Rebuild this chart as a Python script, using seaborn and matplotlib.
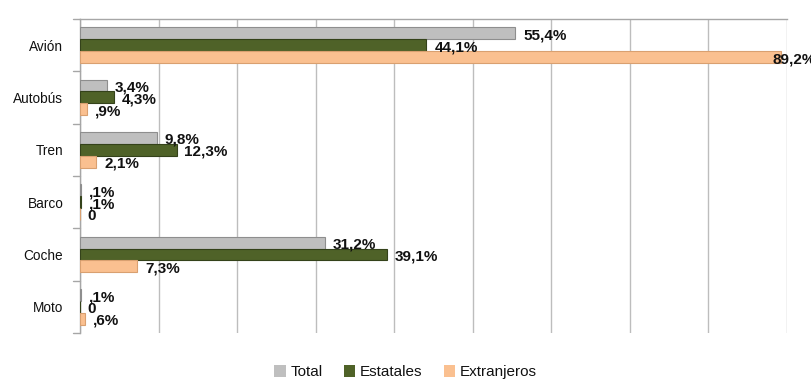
import matplotlib
matplotlib.use("Agg")
import matplotlib.pyplot as plt
import seaborn as sns
import pandas as pd
from matplotlib.patches import Patch

categories = ["Avión", "Autobús", "Tren", "Barco", "Coche", "Moto"]
series = ["Total", "Estatales", "Extranjeros"]
total = [55.4, 3.4, 9.8, 0.1, 31.2, 0.1]
estatales = [44.1, 4.3, 12.3, 0.1, 39.1, 0.0]
extranjeros = [89.2, 0.9, 2.1, 0.0, 7.3, 0.6]
label_total = ["55,4%", "3,4%", "9,8%", ",1%", "31,2%", ",1%"]
label_estatales = ["44,1%", "4,3%", "12,3%", ",1%", "39,1%", "0"]
label_extranjeros = ["89,2%", ",9%", "2,1%", "0", "7,3%", ",6%"]
colors = ["#BFBFBF", "#4F6228", "#FAC090"]
edge_colors = ["#8E8E8E", "#34421A", "#D9A070"]

sns.set_theme(style="white")
plt.rcParams["font.family"] = ["Liberation Sans Narrow", "Liberation Sans", "DejaVu Sans"]

rows = []
for s, vals in zip(series, [total, estatales, extranjeros]):
    for c, v in zip(categories, vals):
        rows.append({"cat": c, "serie": s, "val": v})
df = pd.DataFrame(rows)

fig = plt.figure(figsize=(8.11, 3.85), dpi=100)
ax = fig.add_axes([0.0986, 0.135, 0.8718, 0.816])

sns.barplot(data=df, y="cat", x="val", hue="serie", order=categories,
            hue_order=series, palette=colors, orient="h", width=0.68,
            saturation=1, ax=ax, legend=False, zorder=3)

# darker outline per series (mimics the 3D edge of the original)
n = len(categories)
for k, p in enumerate(ax.patches[:3 * n]):
    p.set_edgecolor(edge_colors[k // n])
    p.set_linewidth(0.8)

ax.set_xlim(0, 90)
ax.set_ylim(5.5, -0.5)
ax.set_xticks(range(0, 91, 10))
ax.set_xticklabels([])
ax.grid(axis="x", color="#BDBDBD", linewidth=1.0, zorder=0)
ax.set_xlabel("")
ax.set_ylabel("")
for side in ["right", "bottom"]:
    ax.spines[side].set_visible(False)
for side in ["left", "top"]:
    ax.spines[side].set_color("#A6A6A6")
    ax.spines[side].set_linewidth(1.0)

ax.set_yticks(range(n))
ax.set_yticklabels(categories, fontsize=9.8, color="#111111")
ax.tick_params(axis="y", length=0, pad=12)
# category boundary tick marks
for b in [i - 0.5 for i in range(n + 1)]:
    ax.plot([-0.9, 0], [b, b], color="#A6A6A6", lw=1, clip_on=False)

bw = 0.68 / 3
for j, (vals, labs) in enumerate(zip([total, estatales, extranjeros],
                                     [label_total, label_estatales, label_extranjeros])):
    for i, (v, lab) in enumerate(zip(vals, labs)):
        y = i + (j - 1) * bw + 0.04
        x = v + 1.0 if v < 85 else v - 1.0
        ax.text(x, y, lab, ha="left", va="center", fontsize=11,
                fontweight="bold", color="#111111", clip_on=False, zorder=5)

handles = [Patch(facecolor=c, edgecolor="none") for c in colors]
fig.legend(handles, series, loc="center", bbox_to_anchor=(0.5, 0.033), ncol=3,
           frameon=False, fontsize=11, handlelength=0.75, handleheight=0.75,
           handletextpad=0.3, columnspacing=1.4, labelcolor="#111111")

fig.savefig("out.png", dpi=100)
